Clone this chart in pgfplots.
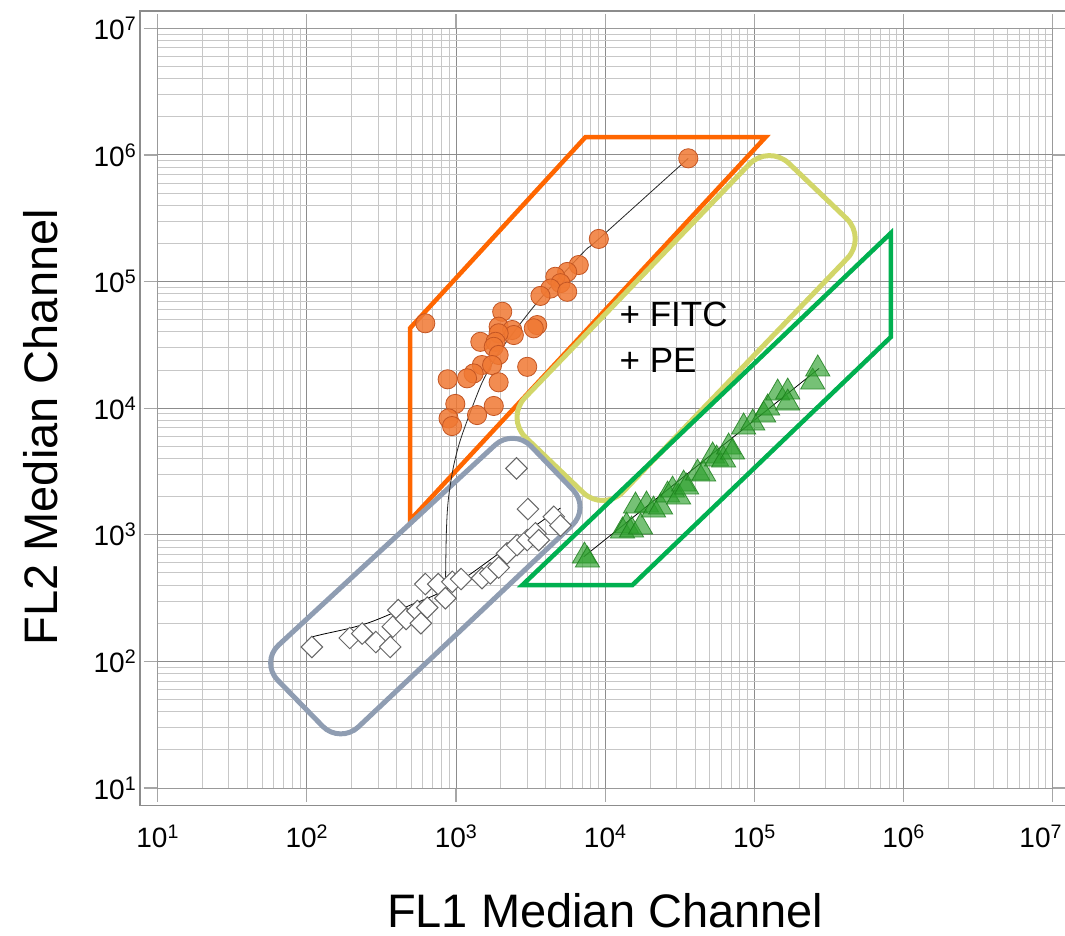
\documentclass[border=0pt]{standalone}
\usepackage{fontspec}
\setmainfont{Liberation Sans}
\usepackage{pgfplots}
\pgfplotsset{compat=1.18}
\definecolor{orangeL}{RGB}{255,102,0}
\definecolor{yelL}{RGB}{210,214,105}
\definecolor{grayL}{RGB}{143,157,178}
\definecolor{greenL}{RGB}{0,176,80}
\definecolor{circF}{RGB}{240,120,50}
\definecolor{circE}{RGB}{195,85,35}
\definecolor{triF}{RGB}{45,160,45}
\definecolor{triE}{RGB}{25,125,25}

\pgfplotstableread{
x y
36060 9.4e5
9060 2.17e5
6650 1.35e5
5560 1.19e5
4630 1.09e5
5010 9.7e4
4300 8.8e4
5560 8.3e4
3680 7.7e4
2040 5.77e4
622 4.68e4
3500 4.53e4
3320 4.27e4
1930 4.40e4
2380 4.14e4
2440 3.78e4
1930 3.90e4
1455 3.34e4
1840 3.34e4
1790 3.05e4
1930 2.63e4
1490 2.19e4
1745 2.19e4
3000 2.12e4
1312 1.88e4
1185 1.72e4
879 1.69e4
1930 1.60e4
989 1.08e4
1790 1.04e4
1383 8820
891 8300
940 7220
}\circles

\pgfplotstableread{
x y
108 130
194 153
235 166
290 142
362 130
377 188
410 254
463 216
550 250
581 200
641 266
622 408
760 408
848 315
944 425
1081 447
1493 455
1698 496
1932 551
2197 713
2565 829
2998 908
3405 1026
3585 908
4520 1387
5010 1183
3035 1596
2540 3345
}\diamonds

\pgfplotstableread{
x y
7260 679
7600 631
13060 1070
13900 1172
15020 1089
17260 1151
15960 1686
18920 1717
21090 1567
23500 1655
26180 2059
28290 2255
31050 1985
33560 2514
35150 2381
41600 3072
45700 3015
52500 4186
55800 3963
62200 3891
67200 4930
71400 4498
84700 7096
97500 7628
115400 8824
122700 10020
143300 13160
167300 13400
167300 10970
246000 16070
266000 20400
}\triangles

\begin{document}
\begin{tikzpicture}
\path[use as bounding box] (0,0) rectangle (1065pt,935pt);
\begin{axis}[
  at={(157.7pt,147pt)}, anchor=south west,
  width=895pt, height=759.7pt, scale only axis,
  xmode=log, ymode=log,
  xmin=10, xmax=1e7, ymin=10, ymax=1e7,
  xtick={1e1,1e2,1e3,1e4,1e5,1e6,1e7},
  ytick={1e1,1e2,1e3,1e4,1e5,1e6,1e7},
  xticklabels={10\textsuperscript{1},10\textsuperscript{2},10\textsuperscript{3},10\textsuperscript{4},10\textsuperscript{5},10\textsuperscript{6},\hspace*{-24pt}10\textsuperscript{7}},
  yticklabels={10\textsuperscript{1},10\textsuperscript{2},10\textsuperscript{3},10\textsuperscript{4},10\textsuperscript{5},10\textsuperscript{6},10\textsuperscript{7}},
  grid=both,
  major grid style={draw=black!45, line width=1pt},
  minor grid style={draw=black!22, line width=0.9pt},
  axis line style={draw=black!40, line width=1pt},
  tick align=outside,
  major tick length=14pt,
  minor tick length=0pt,
  tick style={black!35, line width=1.2pt},
  ticklabel style={font=\fontsize{28}{30}\selectfont},
  xticklabel style={anchor=base, yshift=-46pt},
  yticklabel style={anchor=east, xshift=-4pt},
  xlabel={FL1 Median Channel},
  ylabel={FL2 Median Channel},
  label style={font=\fontsize{47}{50}\selectfont, inner sep=0pt},
  xlabel style={at={([yshift=-139pt]rel axis cs:0.5,0)}, anchor=base},
  ylabel style={at={([xshift=-100.7pt]rel axis cs:0,0.475)}, anchor=base},
  clip=false,
]
% outer frame
\draw[black!45, line width=1.5pt] ([xshift=-17.5pt,yshift=-17.5pt]rel axis cs:0,0) rectangle ([xshift=17.5pt,yshift=17.3pt]rel axis cs:1,1);

% gates
\draw[orangeL, line width=4.5pt, line join=miter]
  (axis cs:493,42950) -- (axis cs:7380,1.384e6) -- (axis cs:119100,1.384e6) -- (axis cs:493,1306) -- cycle;
\draw[yelL, line width=5pt, rounded corners=28pt]
  (axis cs:16350,100900) -- (axis cs:124700,1.219e6) -- (axis cs:567500,220800) -- (axis cs:9750,1510) -- (axis cs:2143,8356) -- cycle;
\draw[grayL, line width=5pt, rounded corners=25pt]
  (axis cs:343.6,828.9) -- (axis cs:2427,6966) -- (axis cs:7962,1626) -- (axis cs:167,22.2) -- (axis cs:48.6,98.6) -- cycle;
\draw[greenL, line width=4.5pt, line join=miter]
  (axis cs:2786,401) -- (axis cs:15240,401) -- (axis cs:822000,36480) -- (axis cs:822000,241500) -- cycle;

% fit lines
\addplot[black!85, line width=0.8pt, smooth, tension=0.5] coordinates {
  (36060,9.4e5) (9060,2.17e5) (7380,1.77e5) (4790,1.03e5) (3515,6.89e4)
  (2500,4.14e4) (1923,2.72e4) (1524,1.67e4) (1285,1.02e4) (1069,5600)
  (960,3430) (887,1880) (861,1030) (848,347)};
\addplot[black, line width=0.8pt, smooth, tension=0.5] coordinates {
  (108,156) (128.5,164) (195,183) (266,204) (362,236) (493,278) (673,322)
  (916,386) (1306,508) (2208,800) (3304,1150) (5010,1625)};
\addplot[black, line width=0.8pt] coordinates {(7180,670) (271500,20600)};

% points
\addplot[only marks, mark=*, mark size=9.6pt,
  mark options={fill=circF, draw=circE, line width=0.8pt, fill opacity=0.85}] table {\circles};
\addplot[only marks, mark=square*, mark size=7.6pt,
  mark options={rotate=45, fill=white, draw=black!60, line width=1pt}] table {\diamonds};
\addplot[only marks, mark=triangle*, mark size=14pt,
  mark options={fill=triF, draw=triE, line width=0.8pt, fill opacity=0.65, draw opacity=0.8}] table {\triangles};

% labels
\node[anchor=base west, inner sep=0pt, font=\fontsize{35}{38}\selectfont] at (axis cs:12470,43760) {+ FITC};
\node[anchor=base west, inner sep=0pt, font=\fontsize{35}{38}\selectfont] at (axis cs:12470,19280) {+ PE};
\end{axis}
\end{tikzpicture}
\end{document}
